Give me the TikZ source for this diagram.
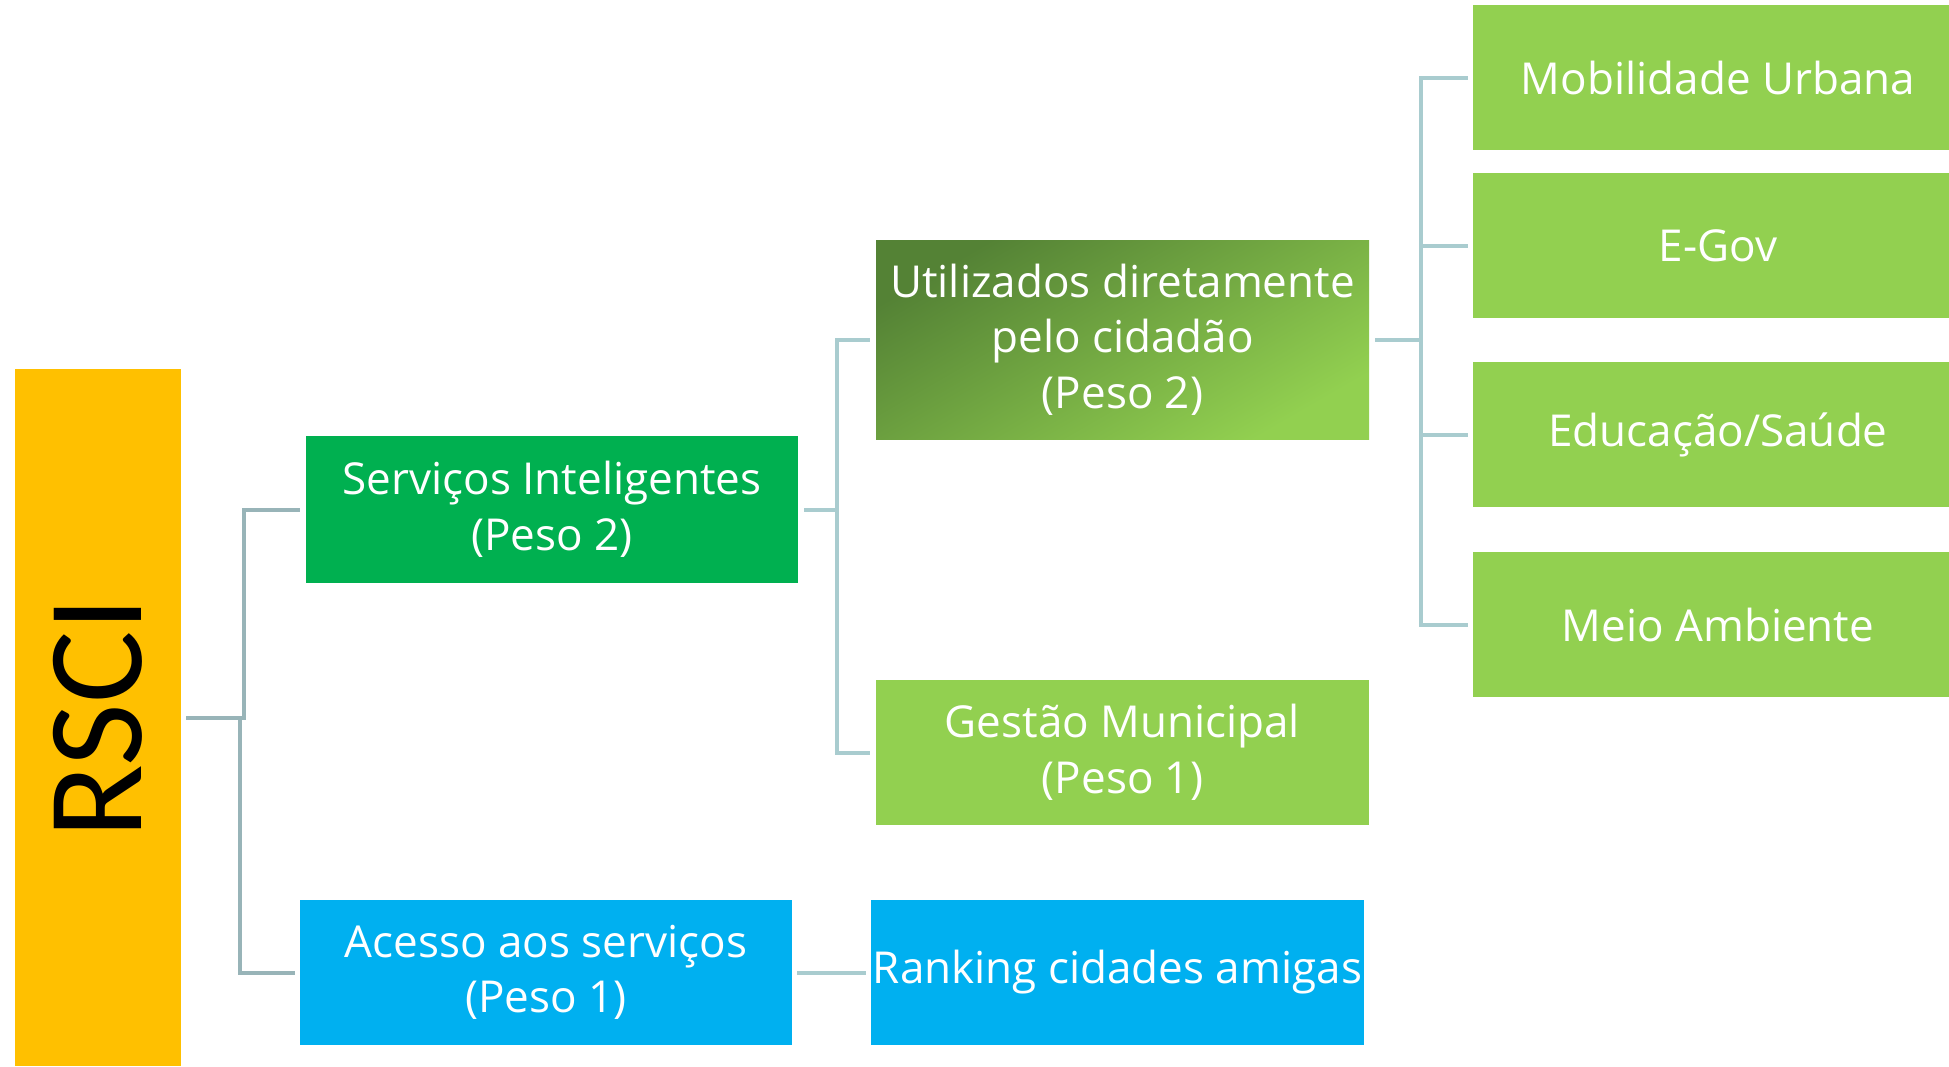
\documentclass[tikz,border=0pt]{standalone}
\usepackage{fontspec}
\setmainfont{Carlito}
\newfontfamily\boxfont{Open Sans}
\usepackage{graphicx}
\usetikzlibrary{positioning}
\definecolor{rsciYellow}{HTML}{FFC000}
\definecolor{servGreen}{HTML}{00B050}
\definecolor{accBlue}{HTML}{00B0F0}
\definecolor{leafGreen}{HTML}{92D050}
\definecolor{darkGreen}{HTML}{548235}
\definecolor{connGray}{HTML}{98B4B8}
\definecolor{connLight}{HTML}{A9CCCF}
\tikzset{
  box/.style={rectangle,inner sep=0pt,align=center,text=white,
    minimum width=493pt,minimum height=145pt,
    font=\boxfont\fontsize{44}{55.5}\selectfont},
  leaf/.style={box,fill=leafGreen,minimum width=476pt},
  conn/.style={draw=connLight,line width=4pt},
  rootconn/.style={draw=connGray,line width=4pt}
}

\begin{document}
\begin{tikzpicture}[x=1pt,y=-1pt]
  \useasboundingbox (0,0) rectangle (1949,1066);

  % root
  \node[rectangle,fill=rsciYellow,minimum width=166pt,minimum height=697pt,inner sep=0pt,
    font=\fontsize{136}{136}\selectfont] (rsci) at (98,717.5) {\rotatebox{90}{RSCI}};

  % second level
  \node[box,fill=servGreen,minimum width=492pt,minimum height=147pt] (serv) at (552,509.5)
    {Serviços Inteligentes\\(Peso 2)};
  \node[box,fill=accBlue,minimum width=492pt] (acesso) at (546,972.5)
    {Acesso aos serviços\\(Peso 1)};

  % third level
  \node[box,minimum height=199pt,top color=darkGreen,bottom color=leafGreen,shading angle=30]
    (util) at (1122.5,339.5) {Utilizados diretamente\\pelo cidadão\\(Peso 2)};
  \node[box,fill=leafGreen] (gestao) at (1122.5,752.5) {Gestão Municipal\\(Peso 1)};
  \node[box,fill=accBlue] (ranking) at (1117.5,972.5) {Ranking cidades amigas};

  % leaves
  \node[leaf] (mob) at (1711,77.5) {\hspace*{14pt}Mobilidade Urbana};
  \node[leaf] (egov) at (1711,245.5) {\hspace*{14pt}E-Gov};
  \node[leaf] (educ) at (1711,434.5) {\hspace*{14pt}Educação/Saúde};
  \node[leaf] (meio) at (1711,624.5) {\hspace*{14pt}Meio Ambiente};

  % connectors
  \draw[rootconn] ([xshift=5pt]rsci.east) -- ++(58,0) |- ([xshift=-6pt]serv.west);
  \draw[rootconn] ([xshift=5pt]rsci.east) -- ++(54,0) |- ([xshift=-5pt]acesso.west);

  \draw[conn] ([xshift=6pt]serv.east) -- ++(33,0) |- ([xshift=-6pt]util.west);
  \draw[conn] ([xshift=6pt]serv.east) -- ++(33,0) |- ([xshift=-6pt]gestao.west);
  \draw[conn] ([xshift=5pt]acesso.east) -- ([xshift=-5pt]ranking.west);

  \foreach \leafnode in {mob,egov,educ,meio}
    \draw[conn] ([xshift=6pt]util.east) -- ++(46,0) |- ([xshift=-5pt]\leafnode.west);
\end{tikzpicture}
\end{document}
